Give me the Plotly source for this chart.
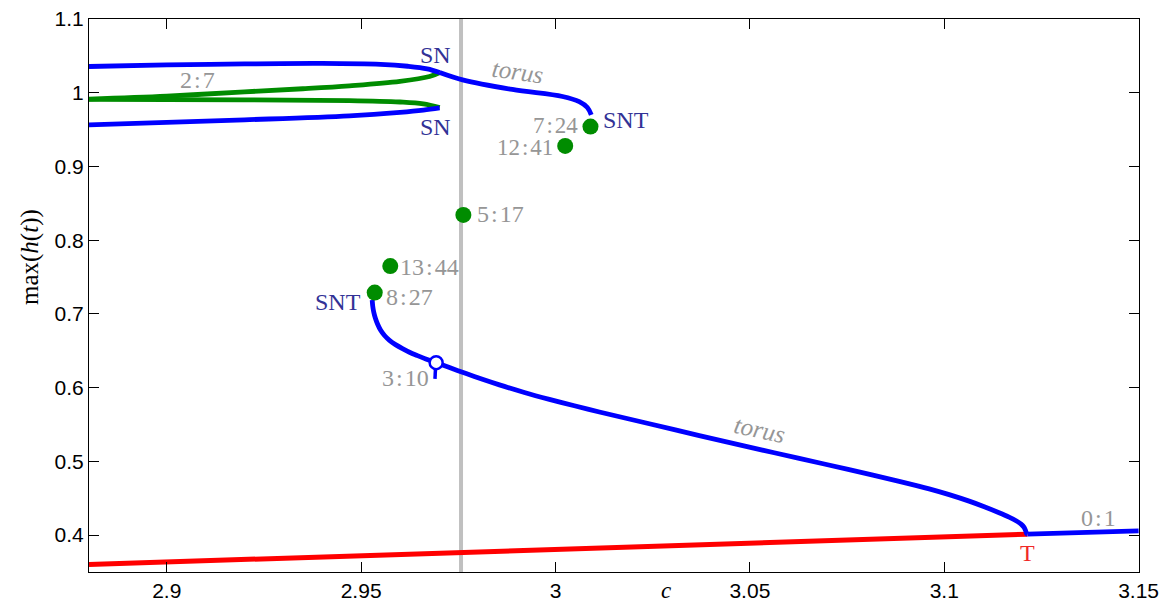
import plotly.graph_objects as go

# ---------------- data ----------------
# upper "2:7" tongue
blue_up_c = [2.88, 2.90, 2.92, 2.94, 2.955, 2.962, 2.967, 2.9702]
blue_up_h = [1.0357, 1.0378, 1.0392, 1.0398, 1.0385, 1.0360, 1.0325, 1.0275]
blue_lo_c = [2.88, 2.92, 2.947, 2.96, 2.966, 2.9702]
blue_lo_h = [0.9565, 0.9633, 0.9688, 0.9735, 0.9765, 0.9795]
green_up_c = [2.88, 2.90, 2.92, 2.935, 2.947, 2.96, 2.9676, 2.9702]
green_up_h = [0.9915, 0.9955, 1.0013, 1.0055, 1.0095, 1.0155, 1.0221, 1.0275]
green_lo_c = [2.88, 2.92, 2.947, 2.96, 2.966, 2.9702]
green_lo_h = [0.9912, 0.9904, 0.9895, 0.9875, 0.9850, 0.9800]

# upper torus branch
torus_up_c = [2.9702, 2.9761, 2.9889, 3.0018, 3.0061, 3.0082, 3.0092]
torus_up_h = [1.0275, 1.0176, 1.0045, 0.9950, 0.9880, 0.9800, 0.9700]

# lower torus branch
torus_lo_c = [2.95285, 2.95298, 2.95324, 2.95365, 2.95422, 2.95499, 2.95602,
              2.95730, 2.95884, 2.96064, 2.96244, 2.96450, 2.96681, 2.96931,
              2.97273, 2.97702, 2.98121, 2.98558, 2.99200, 2.99843, 3.00486,
              3.01129, 3.02414, 3.03699, 3.04985, 3.06270, 3.07555, 3.08841,
              3.09612, 3.10126, 3.10640, 3.11030, 3.11411, 3.11668, 3.11848,
              3.11977, 3.12054, 3.12093, 3.12118, 3.12140]
torus_lo_h = [0.71900, 0.71083, 0.70269, 0.69454, 0.68640, 0.67825, 0.67079,
              0.66427, 0.65844, 0.65301, 0.64812, 0.64350, 0.63862, 0.63387,
              0.62722, 0.61921, 0.61147, 0.60387, 0.59355, 0.58419, 0.57550,
              0.56708, 0.55106, 0.53505, 0.51944, 0.50410, 0.48890, 0.47301,
              0.46283, 0.45496, 0.44614, 0.43853, 0.43039, 0.42442, 0.41953,
              0.41491, 0.41044, 0.40609, 0.40202, 0.40130]

# 3:10 small branch
branch_310_c = [2.9692, 2.9690]
branch_310_h = [0.6340, 0.6120]

# equilibrium-like branches
red_c = [2.88, 3.1214]
red_h = [0.3602, 0.4013]
blue01_c = [3.1214, 3.15]
blue01_h = [0.4013, 0.4058]

# vertical grey reference line
grey_c = 2.9757

# resonance points
res_labels = ["7:24", "12:41", "5:17", "13:44", "8:27"]
res_c = [3.0090, 3.0025, 2.9763, 2.9575, 2.9535]
res_h = [0.9542, 0.9280, 0.8344, 0.7650, 0.7290]

open_c = [2.9693]
open_h = [0.6340]

x_ticks = [2.9, 2.95, 3.0, 3.05, 3.1, 3.15]
x_ticktext = ["2.9", "2.95", "3", "3.05", "3.1", "3.15"]
y_ticks = [0.4, 0.5, 0.6, 0.7, 0.8, 0.9, 1.0, 1.1]
y_ticktext = ["0.4", "0.5", "0.6", "0.7", "0.8", "0.9", "1", "1.1"]

# ---------------- figure ----------------
BLUE = "#0000ff"
GREEN = "rgb(0,140,0)"
RED = "#ff0000"
GREYTXT = "rgb(150,150,150)"
NAVY = "rgb(50,50,150)"
SERIF = "Liberation Serif"
LW = 4.8
HS = "\u200a"  # hair space around the ratio colon

fig = go.Figure()

def line(c, h, color, width=LW, shape="linear", smoothing=1.0):
    ln = dict(color=color, width=width, shape=shape)
    if shape == "spline":
        ln["smoothing"] = smoothing
    fig.add_trace(go.Scatter(x=c, y=h, mode="lines", line=ln,
                             hoverinfo="skip", showlegend=False))

# grey vertical line
line([grey_c, grey_c], [0.35, 1.1], "rgb(192,192,192)", width=4)

line(red_c, red_h, RED, width=5)
line(blue01_c, blue01_h, BLUE)
line(green_up_c, green_up_h, GREEN, shape="spline")
line(green_lo_c, green_lo_h, GREEN, shape="spline")
line(blue_up_c, blue_up_h, BLUE, shape="spline")
line(blue_lo_c, blue_lo_h, BLUE, shape="spline")
line(torus_up_c, torus_up_h, BLUE, shape="spline")
line(torus_lo_c, torus_lo_h, BLUE, shape="spline", smoothing=0.8)
line(branch_310_c, branch_310_h, BLUE, width=3.5)

fig.add_trace(go.Scatter(x=res_c, y=res_h, mode="markers",
                         marker=dict(color=GREEN, size=16, line=dict(width=0)),
                         hoverinfo="skip", showlegend=False))
fig.add_trace(go.Scatter(x=open_c, y=open_h, mode="markers",
                         marker=dict(color="white", size=13,
                                     line=dict(color=BLUE, width=2.5)),
                         hoverinfo="skip", showlegend=False))

def ratio(s):
    return s.replace(":", HS + ":" + HS)

def label(text, x, y, color=GREYTXT, size=24, xanchor="center", angle=0, italic=False):
    if italic:
        text = "<i>" + text + "</i>"
    fig.add_annotation(x=x, y=y, xref="x", yref="y", text=text, showarrow=False,
                       xanchor=xanchor, yanchor="middle", textangle=angle,
                       font=dict(family=SERIF, size=size, color=color))

label(ratio("2:7"), 2.9079, 1.0176)
label("SN", 2.9691, 1.0515, color=NAVY)
label("SN", 2.9691, 0.9542, color=NAVY)
label("torus", 2.9902, 1.0290, angle=8, italic=True, size=25)
label("SNT", 3.0117, 0.9633, color=NAVY, xanchor="left")
label(ratio(res_labels[0]), 3.0063, 0.9552, xanchor="right", size=23)
label(ratio(res_labels[1]), 2.9999, 0.9262, xanchor="right", size=23)
label(ratio(res_labels[2]), 2.9794, 0.8357, xanchor="left")
label(ratio(res_labels[3]), 2.9595, 0.7638, xanchor="left")
label(ratio(res_labels[4]), 2.9558, 0.7230, xanchor="left")
label("SNT", 2.9506, 0.7167, color=NAVY, xanchor="right")
label(ratio("3:10"), 2.9680, 0.6127, xanchor="right")
label("torus", 3.0524, 0.5430, angle=12, italic=True, size=25)
label("T", 3.1213, 0.3753, color="rgb(240,40,40)")
label(ratio("0:1"), 3.1398, 0.4235)

# axis titles
fig.add_annotation(x=-0.0562, y=0.5696, xref="paper", yref="paper",
                   text="max(<i>h</i>(<i>t</i>))", showarrow=False, textangle=-90,
                   xanchor="center", yanchor="middle",
                   font=dict(family=SERIF, size=25, color="black"))
fig.add_annotation(x=3.0284, y=-0.034, xref="x", yref="paper",
                   text="<i>c</i>", showarrow=False,
                   xanchor="center", yanchor="middle",
                   font=dict(family=SERIF, size=23, color="black"))

axis_common = dict(showline=True, linecolor="black", linewidth=1, mirror="ticks",
                   ticks="inside", ticklen=10, tickwidth=1, tickcolor="black",
                   showgrid=False, zeroline=False, automargin=False,
                   ticklabeloverflow="allow",
                   tickfont=dict(family="Liberation Sans", size=21, color="black"))

fig.update_xaxes(range=[2.88, 3.1501], tickvals=x_ticks, ticktext=x_ticktext, **axis_common)
fig.update_yaxes(range=[0.35, 1.1001], tickvals=y_ticks, ticktext=y_ticktext, **axis_common)

# the page body has an 8px margin, so the figure is 8px smaller and its margins shifted
fig.update_layout(width=1160, height=596, plot_bgcolor="white", paper_bgcolor="white",
                  margin=dict(l=81, r=29, t=11, b=32, autoexpand=False), showlegend=False)

fig.write_html("out.html")
